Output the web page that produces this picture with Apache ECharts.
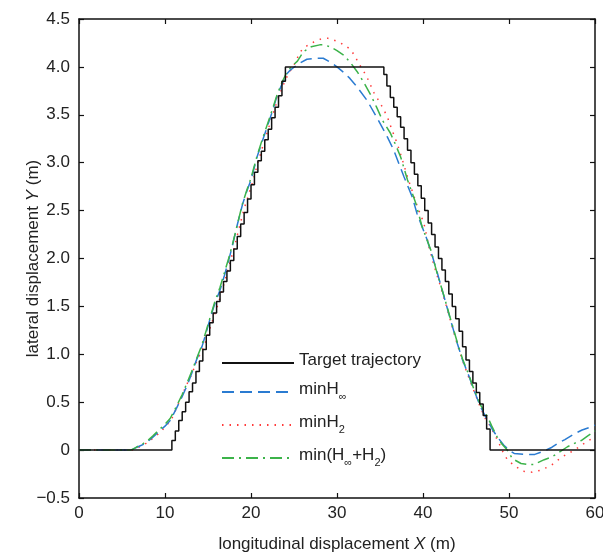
<!DOCTYPE html>
<html>
<head>
<meta charset="utf-8">
<script src="https://cdn.jsdelivr.net/npm/echarts@6/dist/echarts.min.js"></script>
<style>
  html, body { margin: 0; padding: 0; background: #fff; }
  #chart { width: 603px; height: 554px; }
</style>
</head>
<body>
<div id="chart"></div>
<script>
// target trajectory (staircase), [x, y]
const target = [
  [0, 0], [10.8, 0.10], [11.2, 0.20], [11.6, 0.31], [12.0, 0.40], [12.4, 0.50], [12.8, 0.61],
  [13.2, 0.70], [13.6, 0.82], [14.0, 0.93], [14.4, 1.05], [14.8, 1.20], [15.2, 1.33],
  [15.6, 1.43], [16.0, 1.55], [16.4, 1.65], [16.8, 1.76], [17.2, 1.87], [17.6, 1.98],
  [18.0, 2.10], [18.4, 2.23], [18.8, 2.36], [19.2, 2.48], [19.6, 2.62], [20.0, 2.77],
  [20.4, 2.90], [20.8, 3.02], [21.2, 3.12], [21.6, 3.24], [22.0, 3.35], [22.4, 3.47],
  [22.8, 3.58], [23.2, 3.70], [23.6, 3.85], [24.0, 4.00],
  [35.45, 3.92], [35.8, 3.80], [36.2, 3.68], [36.6, 3.58], [37.0, 3.48], [37.4, 3.37],
  [37.8, 3.25], [38.2, 3.13], [38.6, 3.00], [39.0, 2.88], [39.4, 2.76], [39.8, 2.63],
  [40.2, 2.50], [40.6, 2.37], [41.0, 2.25], [41.4, 2.12], [41.8, 2.00], [42.2, 1.88],
  [42.6, 1.76], [43.0, 1.63], [43.4, 1.50], [43.8, 1.37], [44.2, 1.24], [44.6, 1.08],
  [45.0, 0.94], [45.4, 0.82], [45.8, 0.70], [46.2, 0.60], [46.6, 0.48], [47.0, 0.36],
  [47.4, 0.22], [47.8, 0.0], [60, 0]
];

const minHinf = [
  [0, 0], [6.0, 0], [6.5, 0.02], [7.0, 0.04], [7.5, 0.06], [8.0, 0.09], [8.66, 0.14],
  [9.5, 0.21], [10.0, 0.25], [10.6, 0.31], [11.3, 0.43], [12.0, 0.56], [12.6, 0.68],
  [13.1, 0.80], [13.7, 0.95], [14.3, 1.08], [14.8, 1.23], [15.3, 1.39], [15.8, 1.53],
  [16.4, 1.67], [16.9, 1.82], [17.4, 1.98], [17.8, 2.12], [18.4, 2.35], [19.0, 2.56],
  [19.5, 2.70], [20.0, 2.82], [20.7, 3.06], [21.3, 3.22], [21.9, 3.38], [22.5, 3.54],
  [23.0, 3.69], [23.6, 3.82], [24.2, 3.93], [24.6, 3.97], [25.5, 4.03], [26.5, 4.08],
  [27.5, 4.09], [28.4, 4.09], [29.2, 4.05], [30.0, 4.00], [30.8, 3.94], [31.5, 3.88],
  [32.35, 3.79], [33.5, 3.65], [34.7, 3.46], [35.85, 3.27], [36.6, 3.13], [37.2, 2.99],
  [37.8, 2.85], [38.76, 2.64], [39.3, 2.47], [39.9, 2.33], [40.5, 2.19], [41.1, 2.02],
  [41.7, 1.84], [42.45, 1.60], [43.2, 1.36], [44.0, 1.11], [44.6, 0.94], [45.35, 0.77],
  [45.9, 0.63], [46.7, 0.45], [47.5, 0.31], [48.1, 0.21], [48.8, 0.12], [49.4, 0.05],
  [50.0, 0.0], [50.6, -0.035], [51.7, -0.045], [53.0, -0.045], [54.1, -0.01], [55.0, 0.03],
  [55.65, 0.07], [56.5, 0.11], [57.6, 0.17], [58.5, 0.21], [59.5, 0.24], [60, 0.26]
];

const minH2 = [
  [0, 0], [6.2, 0], [6.7, 0.02], [7.2, 0.04], [7.8, 0.07], [8.4, 0.11], [9.0, 0.15],
  [9.6, 0.20], [10.2, 0.26], [10.8, 0.33], [11.2, 0.41], [11.8, 0.53], [12.5, 0.68],
  [13.1, 0.79], [13.7, 0.93], [14.3, 1.04], [14.9, 1.17], [15.4, 1.32], [15.9, 1.45],
  [16.5, 1.62], [17.0, 1.78], [17.5, 1.94], [18.0, 2.10], [18.6, 2.31], [19.2, 2.52],
  [19.7, 2.66], [20.2, 2.80], [20.8, 3.00], [21.4, 3.18], [22.0, 3.35], [22.6, 3.52],
  [23.1, 3.66], [23.7, 3.80], [24.3, 3.92], [25.0, 4.02], [25.75, 4.16], [26.5, 4.22],
  [27.3, 4.26], [28.1, 4.29], [28.9, 4.30], [29.6, 4.28], [30.2, 4.26], [31.0, 4.22],
  [31.6, 4.18], [32.1, 4.11], [32.5, 4.04], [33.0, 3.97], [33.5, 3.89], [34.3, 3.73],
  [35.1, 3.61], [35.85, 3.48], [36.4, 3.34], [37.0, 3.20], [37.6, 3.03], [38.2, 2.85],
  [38.8, 2.69], [39.35, 2.54], [40.1, 2.37], [40.7, 2.12], [41.3, 1.92], [41.9, 1.75],
  [42.6, 1.54], [43.3, 1.32], [44.0, 1.10], [44.7, 0.91], [45.4, 0.74], [46.0, 0.60],
  [46.7, 0.44], [47.3, 0.32], [47.9, 0.24], [48.4, 0.15], [48.85, 0.07], [49.3, -0.02],
  [49.8, -0.10], [50.6, -0.16], [51.6, -0.22], [52.7, -0.23], [53.7, -0.21], [54.9, -0.16],
  [55.6, -0.11], [56.2, -0.07], [57.0, -0.03], [57.6, 0.0], [58.4, 0.05], [59.1, 0.09], [60, 0.14]
];

const minMix = [
  [0, 0], [6.0, 0], [6.5, 0.02], [7.0, 0.05], [7.5, 0.07], [8.0, 0.10], [8.6, 0.15],
  [9.3, 0.21], [10.0, 0.27], [10.6, 0.33], [11.3, 0.45], [12.0, 0.58], [12.6, 0.71],
  [13.1, 0.82], [13.7, 0.96], [14.3, 1.10], [14.8, 1.25], [15.3, 1.40], [15.8, 1.55],
  [16.4, 1.70], [16.9, 1.85], [17.4, 2.00], [17.8, 2.13], [18.4, 2.35], [19.0, 2.57],
  [19.5, 2.71], [20.0, 2.84], [20.7, 3.07], [21.3, 3.24], [21.9, 3.40], [22.5, 3.56],
  [23.0, 3.70], [23.6, 3.84], [24.2, 3.95], [24.8, 4.01], [25.4, 4.06], [26.1, 4.16],
  [27.0, 4.21], [28.0, 4.23], [28.5, 4.23], [29.2, 4.21], [30.0, 4.17], [30.8, 4.12],
  [31.6, 4.04], [32.35, 3.95], [33.1, 3.84], [33.9, 3.71], [34.6, 3.58], [35.3, 3.44],
  [36.2, 3.31], [36.8, 3.19], [37.4, 3.06], [38.2, 2.82], [39.15, 2.58], [39.9, 2.33],
  [40.9, 2.09], [41.6, 1.86], [42.4, 1.62], [43.2, 1.37], [44.0, 1.12], [44.6, 0.95],
  [45.35, 0.78], [45.9, 0.64], [46.7, 0.47], [47.5, 0.35], [48.0, 0.25], [48.6, 0.14],
  [49.2, 0.06], [49.8, 0.0], [50.4, -0.09], [51.4, -0.14], [52.2, -0.15], [52.9, -0.15],
  [54.1, -0.10], [55.0, -0.07], [55.65, -0.035], [56.8, 0.035], [57.6, 0.07], [58.4, 0.10],
  [59.2, 0.15], [60, 0.20]
];

const seriesNames = ["Target trajectory", "minH∞", "minH2", "min(H∞+H2)"];
const legendLabels = {
  "Target trajectory": "{t|Target trajectory}",
  "minH∞": "{t|minH}{s|∞}",
  "minH2": "{t|minH}{s|2}",
  "min(H∞+H2)": "{t|min(H}{s|∞}{t|+H}{s|2}{t|)}",
};

const font = "Liberation Sans, Arial, sans-serif";
const textColor = "#222";

const chart = echarts.init(document.getElementById("chart"));

const frameAxis = {
  axisLine: { show: true, onZero: false, lineStyle: { color: "#111", width: 1.5 } },
  axisTick: { show: true, inside: true, length: 5, lineStyle: { color: "#111", width: 1.2 } },
  splitLine: { show: false },
};

const options = {
  animation: false,
  grid: { left: 79, right: 8, top: 19, bottom: 56, outerBoundsMode: "none" },
  xAxis: [
    {
      type: "value", min: 0, max: 60, interval: 10, position: "bottom",
      ...frameAxis,
      axisLabel: { color: textColor, fontSize: 17, fontFamily: font, margin: 7 },
      name: "{t|longitudinal displacement }{i|X}{t| (m)}",
      nameLocation: "middle",
      nameGap: 38,
      nameMoveOverlap: false,
      nameTextStyle: {
        rich: {
          t: { fontSize: 17, fontFamily: font, color: textColor },
          i: { fontSize: 17, fontFamily: font, color: textColor, fontStyle: "italic" },
        },
      },
    },
    {
      type: "value", min: 0, max: 60, interval: 10, position: "top",
      ...frameAxis,
      axisLabel: { show: false },
    },
  ],
  yAxis: [
    {
      type: "value", min: -0.5, max: 4.5, interval: 0.5, position: "left",
      ...frameAxis,
      axisLabel: {
        color: textColor, fontSize: 17, fontFamily: font, margin: 9,
        formatter: (v) => (v === 0 ? "0" : (v < 0 ? "\u2212" : "") + Math.abs(v).toFixed(1)),
      },
      name: "{t|lateral displacement }{i|Y}{t| (m)}",
      nameLocation: "middle",
      nameGap: 37,
      nameMoveOverlap: false,
      nameTextStyle: {
        rich: {
          t: { fontSize: 17, fontFamily: font, color: textColor },
          i: { fontSize: 17, fontFamily: font, color: textColor, fontStyle: "italic" },
        },
      },
    },
    {
      type: "value", min: -0.5, max: 4.5, interval: 0.5, position: "right",
      ...frameAxis,
      axisLabel: { show: false },
    },
  ],
  legend: {
    orient: "vertical",
    left: 216,
    top: 347,
    itemWidth: 72,
    itemHeight: 14,
    itemGap: 12,
    selectedMode: false,
    data: seriesNames,
    itemStyle: { opacity: 0 },
    formatter: (name) => legendLabels[name],
    textStyle: {
      rich: {
        t: { fontSize: 17, fontFamily: font, color: textColor, lineHeight: 22, verticalAlign: "top" },
        s: { fontSize: 11, fontFamily: font, color: textColor, verticalAlign: "top", padding: [10, 0, 0, 0] },
      },
    },
  },
  series: [
    {
      name: seriesNames[0], type: "line", step: "end", data: target,
      symbol: "none", z: 5,
      lineStyle: { color: "#111", width: 1.5, type: "solid" },
      itemStyle: { color: "#111" },
    },
    {
      name: seriesNames[1], type: "line", data: minHinf,
      symbol: "none", z: 4,
      lineStyle: { color: "#2a7bd1", width: 1.5, type: [12, 6] },
      itemStyle: { color: "#2a7bd1" },
    },
    {
      name: seriesNames[2], type: "line", data: minH2,
      symbol: "none", z: 3,
      lineStyle: { color: "#ff3b3b", width: 1.5, type: [1.5, 6] },
      itemStyle: { color: "#ff3b3b" },
    },
    {
      name: seriesNames[3], type: "line", data: minMix,
      symbol: "none", z: 4,
      lineStyle: { color: "#3cb34a", width: 1.5, type: [12, 5, 2, 5] },
      itemStyle: { color: "#3cb34a" },
    },
  ],
};

chart.setOption(options);
window.addEventListener("resize", () => {
  chart.resize();
});
</script>
</body>
</html>
